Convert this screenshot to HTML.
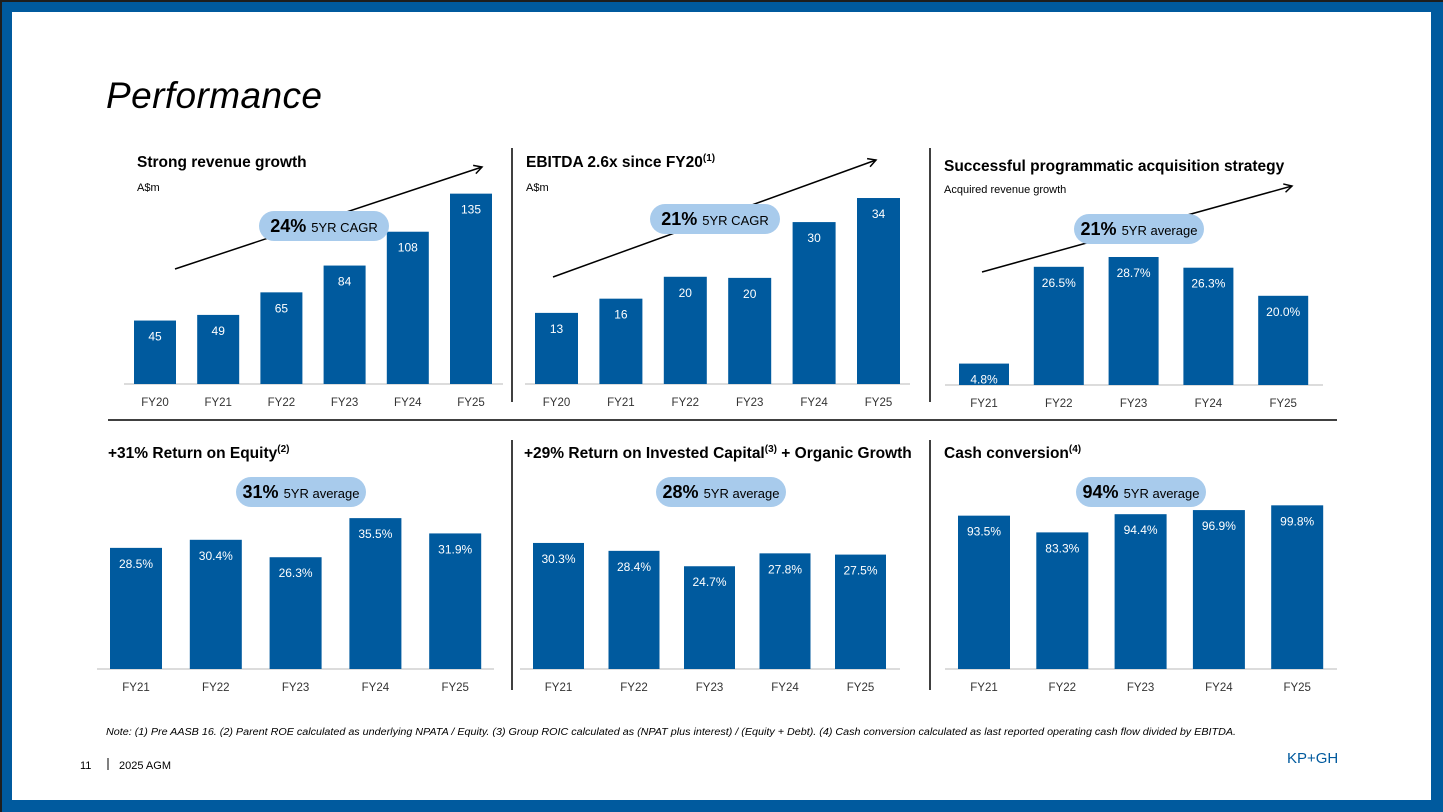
<!DOCTYPE html>
<html><head><meta charset="utf-8"><style>
html,body{margin:0;padding:0;}
body{width:1443px;height:812px;position:relative;overflow:hidden;background:#005a9e;font-family:"Liberation Sans",sans-serif;}
#frame{position:absolute;left:0;top:0;width:1443px;height:812px;box-sizing:border-box;border-left:2px solid #1e1e1e;border-top:2px solid #1e1e1e;}
#slide{position:absolute;left:12px;top:12px;width:1419px;height:788px;background:#fff;}
svg{position:absolute;left:0;top:0;}
</style></head><body>
<div id="frame"></div>
<div id="slide"></div>
<svg id="chart" width="1443" height="812">
<text x="106" y="108" font-size="37" font-style="italic" fill="#000" textLength="216">Performance</text>
<text x="137" y="167" font-size="15.5" font-weight="bold">Strong revenue growth</text>
<text x="137" y="191" font-size="11">A$m</text>
<text x="526" y="167" font-size="15.5" font-weight="bold">EBITDA 2.6x since FY20<tspan font-size="10" dy="-6">(1)</tspan></text>
<text x="526" y="191" font-size="11">A$m</text>
<text x="944" y="171" font-size="15.5" font-weight="bold">Successful programmatic acquisition strategy</text>
<text x="944" y="193" font-size="11">Acquired revenue growth</text>
<text x="108" y="458" font-size="15.5" font-weight="bold">+31% Return on Equity<tspan font-size="10" dy="-6">(2)</tspan></text>
<text x="524" y="458" font-size="15.5" font-weight="bold">+29% Return on Invested Capital<tspan font-size="10" dy="-6">(3)</tspan><tspan dy="6"> + Organic Growth</tspan></text>
<text x="944" y="458" font-size="15.5" font-weight="bold">Cash conversion<tspan font-size="10" dy="-6">(4)</tspan></text>
<line x1="512" y1="148" x2="512" y2="402" stroke="#000" stroke-width="1.5"/>
<line x1="930" y1="148" x2="930" y2="402" stroke="#000" stroke-width="1.5"/>
<line x1="108" y1="420" x2="1337" y2="420" stroke="#000" stroke-width="1.5"/>
<line x1="512" y1="440" x2="512" y2="690" stroke="#000" stroke-width="1.5"/>
<line x1="930" y1="440" x2="930" y2="690" stroke="#000" stroke-width="1.5"/>
<text x="106" y="735" font-size="10" font-style="italic" textLength="1130" lengthAdjust="spacingAndGlyphs">Note: (1) Pre AASB 16. (2) Parent ROE calculated as underlying NPATA / Equity. (3) Group ROIC calculated as (NPAT plus interest) / (Equity + Debt). (4) Cash conversion calculated as last reported operating cash flow divided by EBITDA.</text>
<text x="80" y="769" font-size="11">11</text>
<line x1="108" y1="758" x2="108" y2="770" stroke="#000" stroke-width="1"/>
<text x="119" y="769" font-size="11">2025 AGM</text>
<text x="1287" y="763" font-size="15" fill="#005a9e">KP+GH</text>
</svg>
<script>
const revCats=["FY20","FY21","FY22","FY23","FY24","FY25"];
const revVals=[45,49,65,84,108,135];
const revLabels=["45","49","65","84","108","135"];
const ebCats=["FY20","FY21","FY22","FY23","FY24","FY25"];
const ebVals=[13,15.6,19.6,19.4,29.6,34];
const ebLabels=["13","16","20","20","30","34"];
const acqCats=["FY21","FY22","FY23","FY24","FY25"];
const acqVals=[4.8,26.5,28.7,26.3,20.0];
const roeCats=["FY21","FY22","FY23","FY24","FY25"];
const roeVals=[28.5,30.4,26.3,35.5,31.9];
const roicCats=["FY21","FY22","FY23","FY24","FY25"];
const roicVals=[30.3,28.4,24.7,27.8,27.5];
const cashCats=["FY21","FY22","FY23","FY24","FY25"];
const cashVals=[93.5,83.3,94.4,96.9,99.8];
const pct=v=>v.toFixed(1)+"%";
const NS="http://www.w3.org/2000/svg";
const svg=document.getElementById("chart");
function mk(tag,attrs,parent){const e=document.createElementNS(NS,tag);for(const k in attrs)e.setAttribute(k,attrs[k]);(parent||svg).appendChild(e);return e;}
function chart(name,cats,vals,labels,o){
  const g=mk("g",{});
  
  
  const ax=mk("line",{x1:o.ax0,x2:o.ax1,y1:o.base,y2:o.base,stroke:"#d0d0d0","stroke-width":1.5},g);
  
  
  const y=v=>o.base-v*o.scale;
  const x=i=>o.x0+i*o.step;
  cats.forEach((c,i)=>{
    const r=mk("rect",{x:x(i),y:y(vals[i]),width:o.w,height:o.base-y(vals[i]),fill:"#005a9e"},g);
    
    
    const t=mk("text",{x:x(i)+o.w/2,y:y(vals[i])+20,"text-anchor":"middle","font-size":12,fill:"#fff"},g);
    t.textContent=labels[i];
    
    
    const l=mk("text",{x:x(i)+o.w/2,y:o.base+22,"text-anchor":"middle","font-size":11.5,fill:"#333"},g);
    l.textContent=c;
    
    
  });
}
function arrow(name,x1,y1,x2,y2){
  const l=mk("line",{x1,y1,x2,y2,stroke:"#000","stroke-width":1.5});
  
  
  const a=Math.atan2(y2-y1,x2-x1),s=9;
  const p=mk("polyline",{points:`${x2-s*Math.cos(a-0.5)},${y2-s*Math.sin(a-0.5)} ${x2},${y2} ${x2-s*Math.cos(a+0.5)},${y2-s*Math.sin(a+0.5)}`,fill:"none",stroke:"#000","stroke-width":1.5});
  
  
}
function pill(name,cx,cy,big,small){
  const g=mk("g",{});
  
  
  mk("rect",{x:cx-65,y:cy-15,width:130,height:30,rx:15,fill:"#a8cbec"},g);
  const t=mk("text",{x:cx,y:cy+6,"text-anchor":"middle","font-size":13,fill:"#000"},g);
  const b=mk("tspan",{"font-size":18,"font-weight":"bold"},t);b.textContent=big+" ";
  const s=mk("tspan",{},t);s.textContent=small;
}
arrow("revenue-trend-arrow",175,269,482,167);
arrow("ebitda-trend-arrow",553,277,876,160);
arrow("acquisition-trend-arrow",982,272,1292,186);
chart("revenue",revCats,revVals,revLabels,{x0:134,step:63.2,w:42,base:384,scale:1.41,ax0:124,ax1:503});
chart("ebitda",ebCats,ebVals,ebLabels,{x0:535,step:64.4,w:43,base:384,scale:5.47,ax0:525,ax1:910});
chart("acquisition",acqCats,acqVals,acqVals.map(pct),{x0:959,step:74.8,w:50,base:385,scale:4.46,ax0:945,ax1:1323});
chart("roe",roeCats,roeVals,roeVals.map(pct),{x0:110,step:79.8,w:52,base:669,scale:4.25,ax0:97,ax1:494});
chart("roic",roicCats,roicVals,roicVals.map(pct),{x0:533,step:75.5,w:51,base:669,scale:4.16,ax0:520,ax1:900});
chart("cash",cashCats,cashVals,cashVals.map(pct),{x0:958,step:78.3,w:52,base:669,scale:1.64,ax0:945,ax1:1337});
pill("revenue-cagr-pill",324,226,"24%","5YR CAGR");
pill("ebitda-cagr-pill",715,219,"21%","5YR CAGR");
pill("acquisition-average-pill",1139,229,"21%","5YR average");
pill("roe-average-pill",301,492,"31%","5YR average");
pill("roic-average-pill",721,492,"28%","5YR average");
pill("cash-average-pill",1141,492,"94%","5YR average");
</script>
</body></html>
